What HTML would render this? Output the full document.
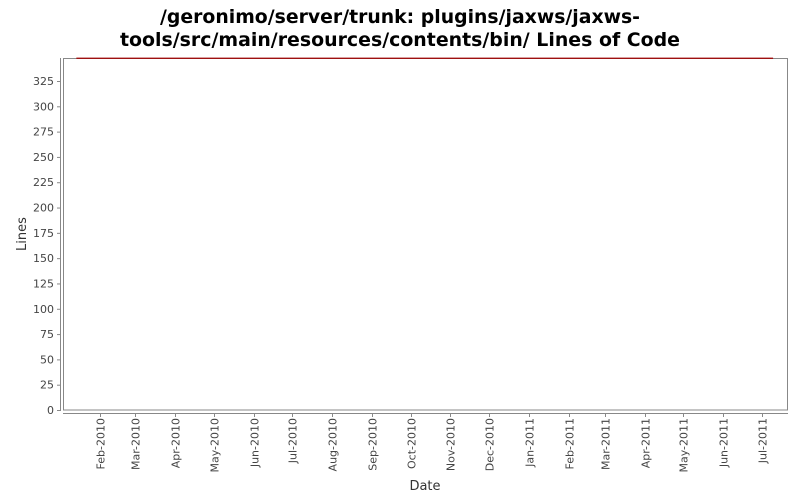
<!DOCTYPE html>
<html><head><meta charset="utf-8"><style>
body{margin:0;background:#fff;font-family:"DejaVu Sans","Liberation Sans",sans-serif}
svg{display:block}
</style></head><body>
<svg id="chart" width="800" height="500" xmlns="http://www.w3.org/2000/svg" font-family="DejaVu Sans, Liberation Sans, sans-serif">
<rect width="800" height="500" fill="#fff"/>
<text x="400" y="23" text-anchor="middle" font-size="19" font-weight="bold" fill="#000" textLength="480" lengthAdjust="spacingAndGlyphs">/geronimo/server/trunk: plugins/jaxws/jaxws-</text>
<text x="400" y="46" text-anchor="middle" font-size="19" font-weight="bold" fill="#000" textLength="560" lengthAdjust="spacingAndGlyphs">tools/src/main/resources/contents/bin/ Lines of Code</text>
<rect x="63.5" y="58.5" width="724" height="351.5" fill="none" stroke="#888"/>
<line x1="60.5" y1="58" x2="60.5" y2="411" stroke="#888"/>
<line x1="63" y1="413.5" x2="788" y2="413.5" stroke="#888"/>
<g id="yticks"></g><g id="xticks"></g><g id="series"></g>
<text transform="translate(26,234) rotate(-90)" text-anchor="middle" font-size="13" fill="#333">Lines</text>
<text x="425" y="490" text-anchor="middle" font-size="13" fill="#333">Date</text>
</svg>
<script>
const yTicks=[0,25,50,75,100,125,150,175,200,225,250,275,300,325];
const xTickLabels=["Feb-2010","Mar-2010","Apr-2010","May-2010","Jun-2010","Jul-2010","Aug-2010","Sep-2010","Oct-2010","Nov-2010","Dec-2010","Jan-2011","Feb-2011","Mar-2011","Apr-2011","May-2011","Jun-2011","Jul-2011"];
const xTickDates=["2010-02-01","2010-03-01","2010-04-01","2010-05-01","2010-06-01","2010-07-01","2010-08-01","2010-09-01","2010-10-01","2010-11-01","2010-12-01","2011-01-01","2011-02-01","2011-03-01","2011-04-01","2011-05-01","2011-06-01","2011-07-01"];
const dates=["2010-01-14","2011-07-10"];
const values=[348,348];
const NS="http://www.w3.org/2000/svg";
const t=d=>Date.parse(d+"T00:00:00Z")/86400000;
const d0=t("2010-02-01")-28.4, d1=t("2011-07-01")+20.6;
const x=d=>63+(t(d)-d0)/(d1-d0)*725;
const y=v=>410-v/325*329;
function mk(tag,attrs,parent){const e=document.createElementNS(NS,tag);for(const k in attrs)e.setAttribute(k,attrs[k]);parent.appendChild(e);return e;}
const yg=document.getElementById('yticks');
yTicks.forEach(v=>{
  const l=mk('line',{x1:57,x2:60,y1:y(v)+.5,y2:y(v)+.5,stroke:'#888'},yg);
  
  
  const tx=mk('text',{x:54,y:y(v)+4,'text-anchor':'end','font-size':11,fill:'#444'},yg);
  tx.textContent=v;
  
  
});
const xg=document.getElementById('xticks');
xTickDates.forEach((d,i)=>{
  const xx=Math.round(x(d))+.5;
  const l=mk('line',{x1:xx,x2:xx,y1:414,y2:417,stroke:'#888'},xg);
  
  
  const tx=mk('text',{transform:`translate(${xx+4},418) rotate(-90)`,'text-anchor':'end','font-size':11,fill:'#444'},xg);
  tx.textContent=xTickLabels[i];
  
  
});
const sg=document.getElementById('series');
const p=mk('polyline',{points:dates.map((d,i)=>x(d)+','+(y(values[i])+.5)).join(' '),fill:'none',stroke:'#a00000','stroke-width':1.2},sg);


</script>
</body></html>
